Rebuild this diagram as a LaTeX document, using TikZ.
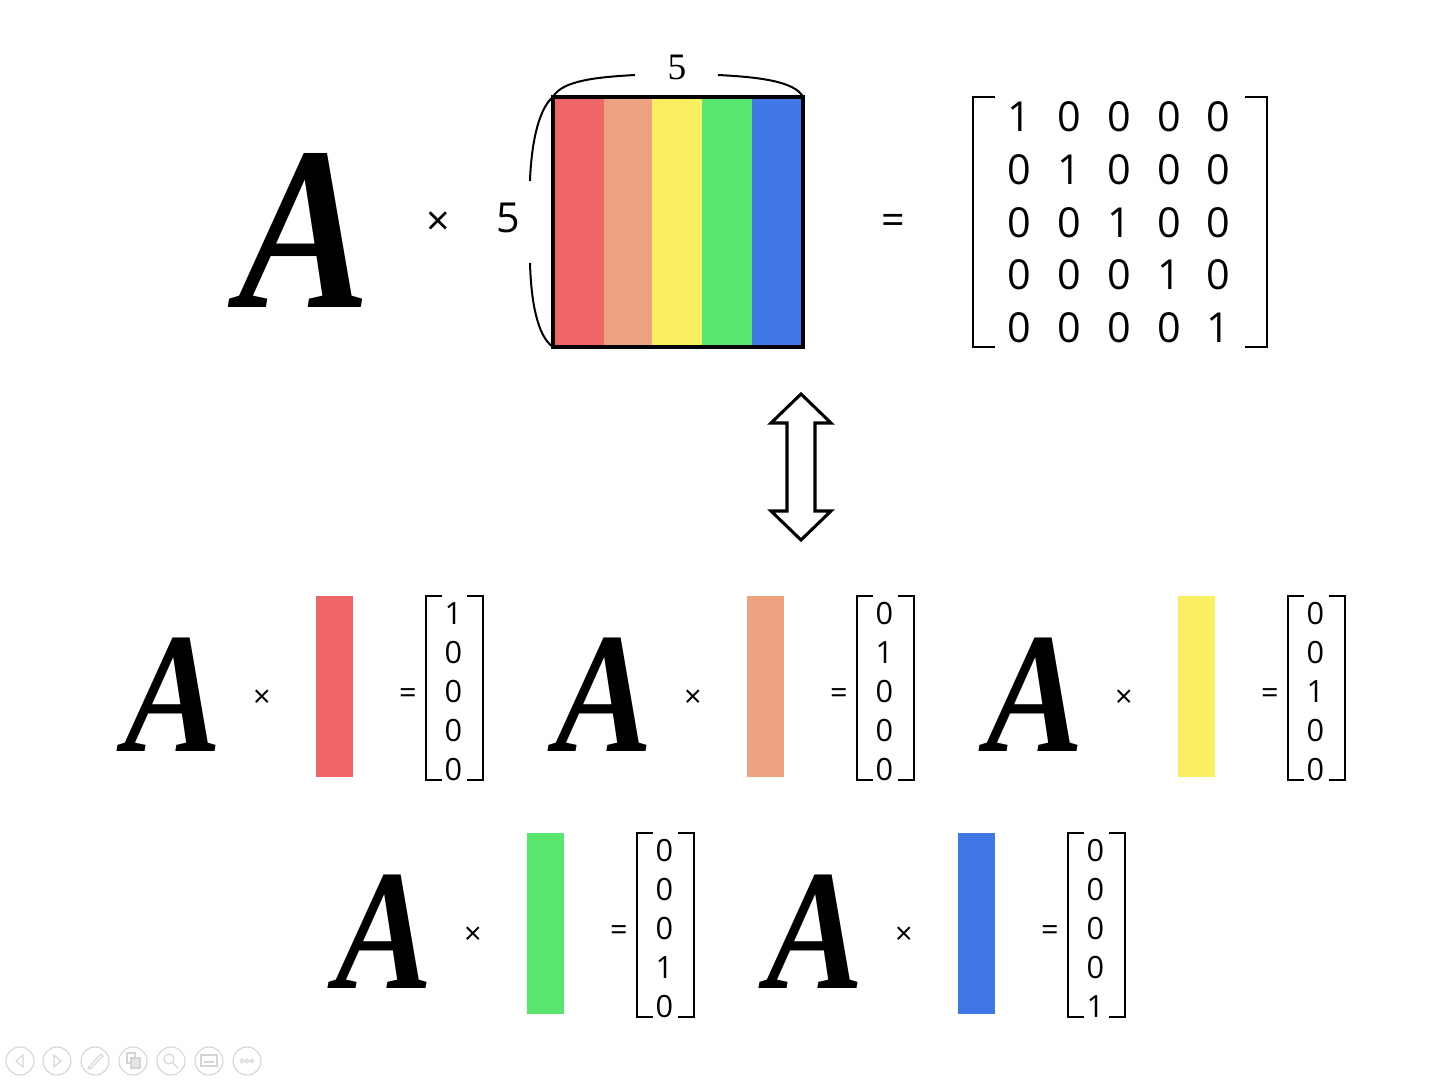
\documentclass[tikz,border=0pt]{standalone}
\usepackage{fontspec}
\setmainfont{Open Sans}
\newfontfamily\afont{Liberation Serif}
\definecolor{cred}{HTML}{F06666}
\definecolor{csalmon}{HTML}{EDA380}
\definecolor{cyellow}{HTML}{FAEF62}
\definecolor{cgreen}{HTML}{58E66E}
\definecolor{cblue}{HTML}{3F78E6}
\definecolor{tbgray}{HTML}{D4D4D4}
\tikzset{
  bigA/.style={inner sep=0pt, xscale=0.85, font=\afont\bfseries\itshape\fontsize{175}{175}\selectfont},
  smallA/.style={inner sep=0pt, xscale=0.85, font=\afont\bfseries\itshape\fontsize{129}{129}\selectfont},
  bdig/.style={inner sep=0pt, font=\fontsize{31}{31}\selectfont},
  sdig/.style={inner sep=0pt, font=\fontsize{23}{23}\selectfont},
  bop/.style={inner sep=0pt, font=\fontsize{31}{31}\selectfont},
  sop/.style={inner sep=0pt, font=\fontsize{23}{23}\selectfont},
  bar/.style={draw=none, inner sep=0pt, minimum width=27.75pt, minimum height=135.75pt},
  stripe/.style={draw=none, inner sep=0pt, minimum height=187.5pt},
  brk/.style={line width=1.6pt},
  bbrk/.style={line width=2.2pt},
  brace/.style={line width=1.5pt},
  tb/.style={draw=tbgray, line width=0.8pt},
}
\newcommand{\smallgroup}[5]{%
  \begin{scope}[shift={(#2,#3)}]
    \node[smallA] (#1A) at (173,695) {A};
    \node[sop] (#1x) at (262,699) {×};
    \node[bar, fill=#4] (#1bar) at (334.5,686.5) {};
    \node[sop] (#1eq) at (408,696) {=};
    \draw[brk] (442,596) -| (426,780) -- (442,780);
    \draw[brk] (467,596) -| (483,780) -- (467,780);
    \foreach \r in {1,...,5} {
      \node[sdig] (#1e\r) at (453.5,{614+39*(\r-1)}) {\ifnum\r=#5\relax 1\else 0\fi};
    }
  \end{scope}}
\begin{document}
\begin{tikzpicture}[x=0.75pt,y=-0.75pt]
\useasboundingbox (0,0) rectangle (1439,1080);
\fill[white] (0,0) rectangle (1439,1080);

% top row
\node[bigA] (A) at (304.5,230.5) {A};
\node[bop] (times) at (438,224) {×};
\node[bdig] (five) at (508,218) {5};
\node[inner sep=0pt, font=\afont\fontsize{28}{28}\selectfont] (fivetop) at (677,67) {5};

\node[stripe, fill=cred, minimum width=38.25pt] (s1) at (578.5,222) {};
\node[stripe, fill=csalmon, minimum width=36pt] (s2) at (628,222) {};
\node[stripe, fill=cyellow, minimum width=37.5pt] (s3) at (677,222) {};
\node[stripe, fill=cgreen, minimum width=37.5pt] (s4) at (727,222) {};
\node[stripe, fill=cblue, minimum width=38.25pt] (s5) at (777.5,222) {};
\draw[line width=2.4pt] (553,97) rectangle (803,347);

\draw[brace] (553,97) .. controls (562,80) and (600,77) .. (635,75);
\draw[brace] (718,75) .. controls (757,77) and (795,81) .. (803,97);
\draw[brace] (553,97) .. controls (537,110) and (531,150) .. (530,181);
\draw[brace] (530,263) .. controls (531,300) and (537,336) .. (553,347);

\node[bop] (eq) at (893,224) {=};
\draw[bbrk] (995,97) -| (973,347) -- (995,347);
\draw[bbrk] (1245,97) -| (1267,347) -- (1245,347);
\foreach \r in {1,...,5} {
  \foreach \c in {1,...,5} {
    \node[bdig] (m\r\c) at ({1019.5+49.8*(\c-1)},{117+52.7*(\r-1)}) {\ifnum\r=\c\relax 1\else 0\fi};
  }
}

% double arrow
\draw[line width=2.3pt, line join=miter] (801,394) -- (831,423) -- (815,423) -- (815,511) -- (831,511) -- (801,540) -- (771,511) -- (787,511) -- (787,423) -- (771,423) -- cycle;

% small groups
\smallgroup{ga}{0}{0}{cred}{1}
\smallgroup{gb}{431}{0}{csalmon}{2}
\smallgroup{gc}{862}{0}{cyellow}{3}
\smallgroup{gd}{211}{237}{cgreen}{4}
\smallgroup{ge}{642}{237}{cblue}{5}

% toolbar
\foreach \x in {20,57,95,133,171,209,247} {
  \draw[tb] (\x,1061) circle (14);
}
\draw[tb] (23,1055) -- (16,1061) -- (23,1067) -- cycle;
\draw[tb] (54,1055) -- (61,1061) -- (54,1067) -- cycle;
\draw[tb] (88,1068) -- (101,1054) -- (103,1056) -- (90,1069) -- cycle;
\draw[tb] (127,1053) rectangle (135,1063);
\draw[tb, fill=tbgray!60] (131,1058) rectangle (140,1068);
\draw[tb] (169,1059) circle (5);
\draw[tb] (173,1063) -- (178,1068);
\draw[tb] (201,1055) rectangle (217,1066);
\draw[tb] (204,1062) -- (214,1062);
\foreach \dx in {-5,0,5} { \draw[tb] ({247+\dx},1061) circle (1.8); }
\end{tikzpicture}
\end{document}
